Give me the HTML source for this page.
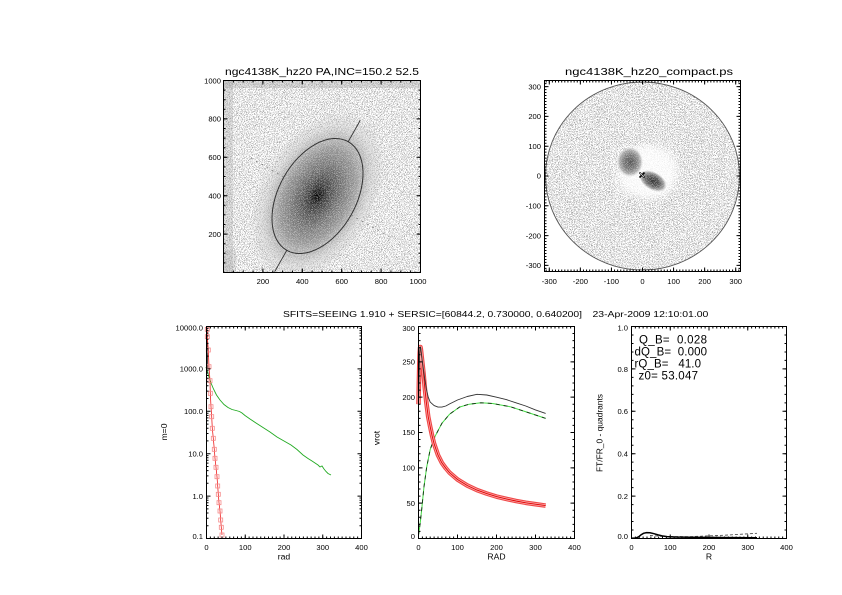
<!DOCTYPE html>
<html><head><meta charset="utf-8"><style>
html,body{margin:0;padding:0;background:#fff;}
svg{display:block;}
.t{font-family:"Liberation Sans",sans-serif;font-size:7.6px;fill:#000;}
.a{font-family:"Liberation Sans",sans-serif;font-size:8.6px;fill:#000;}
.h{font-family:"Liberation Sans",sans-serif;font-size:10.5px;fill:#000;}
.q{font-family:"Liberation Sans",sans-serif;font-size:11.5px;fill:#000;white-space:pre;}
</style></head><body>
<svg width="842" height="595" viewBox="0 0 842 595" xmlns="http://www.w3.org/2000/svg">
<defs>
<filter id="nzA" x="0" y="0" width="1" height="1" color-interpolation-filters="sRGB">
<feTurbulence type="fractalNoise" baseFrequency="1.4" numOctaves="1" seed="3"/>
<feColorMatrix type="matrix" values="0 0 0 0 0.56 0 0 0 0 0.56 0 0 0 0 0.56 8 0 0 0 -4.15"/>
</filter>
<filter id="nzB" x="0" y="0" width="1" height="1" color-interpolation-filters="sRGB">
<feTurbulence type="fractalNoise" baseFrequency="1.4" numOctaves="1" seed="11"/>
<feColorMatrix type="matrix" values="0 0 0 0 0.55 0 0 0 0 0.55 0 0 0 0 0.55 8 0 0 0 -4.15"/>
</filter>
<filter id="nzC" x="0" y="0" width="1" height="1" color-interpolation-filters="sRGB">
<feTurbulence type="fractalNoise" baseFrequency="1.4" numOctaves="1" seed="21"/>
<feColorMatrix type="matrix" values="0 0 0 0 1 0 0 0 0 1 0 0 0 0 1 8 0 0 0 -4.2"/>
</filter>
<radialGradient id="gal" cx="0.5" cy="0.5" r="0.5">
<stop offset="0" stop-color="#000"/>
<stop offset="0.05" stop-color="#1a1a1a"/>
<stop offset="0.12" stop-color="#3c3c3c"/>
<stop offset="0.25" stop-color="#5e5e5e"/>
<stop offset="0.4" stop-color="#7c7c7c"/>
<stop offset="0.55" stop-color="#969696"/>
<stop offset="0.67" stop-color="#aaaaaa" stop-opacity="0.85"/>
<stop offset="0.82" stop-color="#bbbbbb" stop-opacity="0.45"/>
<stop offset="1" stop-color="#c8c8c8" stop-opacity="0"/>
</radialGradient>
<radialGradient id="blobA" cx="0.5" cy="0.5" r="0.5">
<stop offset="0" stop-color="#555"/>
<stop offset="0.5" stop-color="#7a7a7a"/>
<stop offset="0.8" stop-color="#9a9a9a" stop-opacity="0.8"/>
<stop offset="1" stop-color="#bbb" stop-opacity="0"/>
</radialGradient>
<radialGradient id="blobB" cx="0.5" cy="0.5" r="0.5">
<stop offset="0" stop-color="#333"/>
<stop offset="0.5" stop-color="#5e5e5e"/>
<stop offset="0.8" stop-color="#8a8a8a" stop-opacity="0.8"/>
<stop offset="1" stop-color="#aaa" stop-opacity="0"/>
</radialGradient>
<clipPath id="cA"><rect x="224" y="81" width="196" height="191"/></clipPath>
<clipPath id="cB"><ellipse cx="642.5" cy="176" rx="97" ry="94"/></clipPath>
<clipPath id="cG"><ellipse cx="317.5" cy="196" rx="50" ry="80" transform="rotate(29.5 317.5 196)"/></clipPath>
<filter id="bl" x="-50%" y="-50%" width="200%" height="200%"><feGaussianBlur stdDeviation="4"/></filter>
<path id="logL" d="M206.5 525.7h2M206.5 518.3h2M206.5 513h2M206.5 508.9h2M206.5 505.5h2M206.5 502.7h2M206.5 500.2h2M206.5 498h2M206.5 483.3h2M206.5 475.9h2M206.5 470.6h2M206.5 466.5h2M206.5 463.1h2M206.5 460.3h2M206.5 457.8h2M206.5 455.6h2M206.5 440.9h2M206.5 433.5h2M206.5 428.2h2M206.5 424.1h2M206.5 420.7h2M206.5 417.9h2M206.5 415.4h2M206.5 413.2h2M206.5 398.5h2M206.5 391.1h2M206.5 385.8h2M206.5 381.7h2M206.5 378.3h2M206.5 375.5h2M206.5 373h2M206.5 370.8h2M206.5 356.1h2M206.5 348.7h2M206.5 343.4h2M206.5 339.3h2M206.5 335.9h2M206.5 333.1h2M206.5 330.6h2M206.5 328.4h2M206.5 496.1h4M206.5 453.7h4M206.5 411.3h4M206.5 368.9h4"/>
</defs>

<rect x="0" y="0" width="842" height="595" fill="#fff"/>

<!-- ===== Panel A: galaxy image ===== -->
<g clip-path="url(#cA)">
<rect x="224" y="81" width="196" height="191" fill="#fff"/>
<rect x="224" y="81" width="196" height="191" filter="url(#nzA)"/>
<rect x="224" y="81" width="196" height="7" fill="#999" opacity="0.3"/>
<rect x="224" y="81" width="9" height="191" fill="#999" opacity="0.25"/>
<rect x="224" y="250" width="12" height="22" fill="#999" opacity="0.2"/>
<ellipse cx="317.5" cy="196" rx="58" ry="92" transform="rotate(29.5 317.5 196)" fill="url(#gal)"/>
<g clip-path="url(#cG)" opacity="0.6"><rect x="240" y="100" width="160" height="180" filter="url(#nzC)"/></g>
<ellipse cx="317.5" cy="196" rx="38.6" ry="62.4" transform="rotate(29.5 317.5 196)" fill="none" stroke="#333" stroke-width="1"/>
<line x1="348.2" y1="141.7" x2="360.3" y2="120.3" stroke="#333" stroke-width="0.9"/>
<line x1="286.8" y1="250.3" x2="274.7" y2="271.7" stroke="#333" stroke-width="0.9"/>
<line x1="351.1" y1="215" x2="393.2" y2="238.8" stroke="#777" stroke-width="0.7" stroke-dasharray="2 4"/>
<line x1="283.9" y1="177" x2="247.9" y2="156.6" stroke="#777" stroke-width="0.7" stroke-dasharray="2 4"/>
</g>
<g stroke="#000" fill="none">
<rect x="223.5" y="80.5" width="197" height="192" stroke-width="1"/>
<line x1="223" y1="271.5" x2="421" y2="271.5" stroke-width="2" stroke-dasharray="1 8.85"/>
<line x1="223" y1="81.5" x2="421" y2="81.5" stroke-width="2" stroke-dasharray="1 8.85"/>
<line x1="224.5" y1="273" x2="224.5" y2="80" stroke-width="2" stroke-dasharray="1 8.6"/>
<line x1="419.5" y1="273" x2="419.5" y2="80" stroke-width="2" stroke-dasharray="1 8.6"/>
<line x1="223" y1="270.5" x2="421" y2="270.5" stroke-width="4" stroke-dasharray="1 38.4"/>
<line x1="223" y1="82.5" x2="421" y2="82.5" stroke-width="4" stroke-dasharray="1 38.4"/>
<line x1="225.5" y1="273" x2="225.5" y2="80" stroke-width="4" stroke-dasharray="1 37.4"/>
<line x1="418.5" y1="273" x2="418.5" y2="80" stroke-width="4" stroke-dasharray="1 37.4"/>
</g>
<text class="h" x="225" y="75" textLength="194" lengthAdjust="spacingAndGlyphs">ngc4138K_hz20 PA,INC=150.2 52.5</text>
<g class="t" text-anchor="end">
<text x="221" y="83.4">1000</text>
<text x="221" y="121.6">800</text>
<text x="221" y="160">600</text>
<text x="221" y="198.4">400</text>
<text x="221" y="236.8">200</text>
</g>
<g class="t" text-anchor="middle">
<text x="262.9" y="284">200</text>
<text x="302.3" y="284">400</text>
<text x="341.7" y="284">600</text>
<text x="381.1" y="284">800</text>
<text x="418" y="284">1000</text>
</g>

<!-- ===== Panel B: residual map ===== -->
<g clip-path="url(#cB)">
<rect x="545" y="81" width="196" height="191" filter="url(#nzB)"/>
<ellipse cx="648" cy="172" rx="30" ry="27" fill="#fff" filter="url(#bl)" opacity="0.8"/>
<ellipse cx="630" cy="162" rx="13" ry="15" fill="url(#blobA)"/>
<ellipse cx="653" cy="181" rx="15" ry="9" transform="rotate(30 653 181)" fill="url(#blobB)"/>
<rect x="612" y="145" width="60" height="50" filter="url(#nzC)" opacity="0.5"/>
<path d="M639.5 172.5l5 5M644.5 172.5l-5 5" stroke="#000" stroke-width="1.6"/>
<path d="M640 173l4 4" stroke="#fff" stroke-width="0.6"/>
</g>
<ellipse cx="642.5" cy="176" rx="97" ry="94" fill="none" stroke="#555" stroke-width="0.9"/>
<g stroke="#000" fill="none">
<rect x="544.5" y="80.5" width="196" height="191" stroke-width="1"/>
<line x1="545.68" y1="270.5" x2="740" y2="270.5" stroke-width="2" stroke-dasharray="1 2.107"/>
<line x1="545.68" y1="81.5" x2="740" y2="81.5" stroke-width="2" stroke-dasharray="1 2.107"/>
<line x1="545.5" y1="83.12" x2="545.5" y2="271" stroke-width="2" stroke-dasharray="1 1.98"/>
<line x1="739.5" y1="83.12" x2="739.5" y2="271" stroke-width="2" stroke-dasharray="1 1.98"/>
<line x1="548.79" y1="269.5" x2="740" y2="269.5" stroke-width="4" stroke-dasharray="1 30.07"/>
<line x1="548.79" y1="82.5" x2="740" y2="82.5" stroke-width="4" stroke-dasharray="1 30.07"/>
<line x1="546.5" y1="86.1" x2="546.5" y2="271" stroke-width="4" stroke-dasharray="1 28.8"/>
<line x1="738.5" y1="86.1" x2="738.5" y2="271" stroke-width="4" stroke-dasharray="1 28.8"/>
</g>
<text class="h" x="565" y="75" textLength="168" lengthAdjust="spacingAndGlyphs">ngc4138K_hz20_compact.ps</text>
<g class="t" text-anchor="end">
<text x="541" y="89.3">300</text>
<text x="541" y="119.1">200</text>
<text x="541" y="148.9">100</text>
<text x="541" y="178.7">0</text>
<text x="541" y="208.5">-100</text>
<text x="541" y="238.3">-200</text>
<text x="541" y="268.1">-300</text>
</g>
<g class="t" text-anchor="middle">
<text x="549.3" y="284">-300</text>
<text x="580.4" y="284">-200</text>
<text x="611.4" y="284">-100</text>
<text x="642.5" y="284">0</text>
<text x="673.6" y="284">100</text>
<text x="704.6" y="284">200</text>
<text x="735.7" y="284">300</text>
</g>

<!-- ===== Bottom title ===== -->
<text class="a" x="283" y="317" textLength="299" lengthAdjust="spacingAndGlyphs">SFITS=SEEING 1.910 + SERSIC=[60844.2, 0.730000, 0.640200]</text>
<text class="a" x="592.5" y="317" textLength="115.8" lengthAdjust="spacingAndGlyphs">23-Apr-2009 12:10:01.00</text>

<!-- ===== Panel C: log profile ===== -->
<g fill="none">
<polyline points="206,367 207.5,372 209,377 211,383 213.5,389 216.5,395 220,400 224,404.5 228,407.5 232,409.5 236,410.5 239.5,411.5 242,413 245,415.5 250,419 256,423 263,427.5 270,432 277,437 284,441 291,445 297,449.5 303,455 308,458.5 312,461 315,463 318,465 320,467 322,466 324,469 326,471.5 328,473.5 331,475" stroke="#22aa22" stroke-width="0.9"/>
<polyline points="206.7,329 207.2,350 207.8,368" stroke="#222" stroke-width="0.8"/>
<polyline points="207.3,329.3 207.3,336.7 208.3,350 209,366.7 210,380.7 210.3,393.3 211,406.7 211.7,416.7 212.3,428.3 213.3,438.3 214.3,449.3 215,458.3 216,467.3 217,476.7 217.7,486 218.3,494.3 219,502.7 220,511 220.7,520 221.3,527.3 222,535" stroke="#ee2222" stroke-width="0.8"/>
<g stroke="#f58a8a" stroke-width="0.8">
<rect x="205.3" y="327.3" width="4" height="4"/><rect x="205.3" y="334.7" width="4" height="4"/><rect x="206.3" y="348" width="4" height="4"/><rect x="207" y="364.7" width="4" height="4"/><rect x="208" y="378.7" width="4" height="4"/><rect x="208.3" y="391.3" width="4" height="4"/><rect x="209" y="404.7" width="4" height="4"/><rect x="209.7" y="414.7" width="4" height="4"/><rect x="210.3" y="426.3" width="4" height="4"/><rect x="211.3" y="436.3" width="4" height="4"/><rect x="212.3" y="447.3" width="4" height="4"/><rect x="213" y="456.3" width="4" height="4"/><rect x="214" y="465.3" width="4" height="4"/><rect x="215" y="474.7" width="4" height="4"/><rect x="215.7" y="484" width="4" height="4"/><rect x="216.3" y="492.3" width="4" height="4"/><rect x="217" y="500.7" width="4" height="4"/><rect x="218" y="509" width="4" height="4"/><rect x="218.7" y="518" width="4" height="4"/><rect x="219.3" y="525.3" width="4" height="4"/><rect x="220" y="533" width="4" height="4"/>
</g>
</g>
<g stroke="#000" fill="none">
<rect x="206.5" y="326.5" width="155" height="212" stroke-width="1"/>
<line x1="206" y1="537.5" x2="362" y2="537.5" stroke-width="2" stroke-dasharray="1 2.875"/>
<line x1="206" y1="327.5" x2="362" y2="327.5" stroke-width="2" stroke-dasharray="1 2.875"/>
<line x1="206" y1="536.5" x2="362" y2="536.5" stroke-width="4" stroke-dasharray="1 37.75"/>
<line x1="206" y1="328.5" x2="362" y2="328.5" stroke-width="4" stroke-dasharray="1 37.75"/>
<use href="#logL" stroke-width="1"/>
<use href="#logL" stroke-width="1" transform="matrix(-1 0 0 1 568 0)"/>
</g>
<g class="t" text-anchor="end">
<text x="203" y="330.5">10000.0</text>
<text x="203" y="371.6">1000.0</text>
<text x="203" y="414">100.0</text>
<text x="203" y="456.4">10.0</text>
<text x="203" y="498.8">1.0</text>
<text x="203" y="539.2">0.1</text>
</g>
<g class="t" text-anchor="middle">
<text x="206.5" y="550.2">0</text>
<text x="245.25" y="550.2">100</text>
<text x="284" y="550.2">200</text>
<text x="322.75" y="550.2">300</text>
<text x="361.5" y="550.2">400</text>
</g>
<text class="a" x="284" y="559.5" text-anchor="middle">rad</text>
<text class="a" transform="translate(167,432) rotate(-90)" text-anchor="middle">m=0</text>

<!-- ===== Panel D: rotation curve ===== -->
<g fill="none" stroke-linejoin="round">
<polyline points="418.5,535 419.28,530 420.45,520.8 421.62,510.2 423.96,486.9 426.69,467.1 430.2,449.5 434.88,436.7 441.9,423.3 449.7,414.1 459.45,407.1 469.2,404.2 480.9,402.8 492.6,403.5 510.15,406.7 526.53,412 545.64,418.4" stroke="#44dd44" stroke-width="1"/>
<polyline points="418.5,535 419.28,530 420.45,520.8 421.62,510.2 423.96,486.9 426.69,467.1 430.2,449.5 434.88,436.7 441.9,423.3 449.7,414.1 459.45,407.1 469.2,404.2 480.9,402.8 492.6,403.5 510.15,406.7 526.53,412 545.64,418.4" stroke="#113311" stroke-width="0.9" stroke-dasharray="4 4"/>
<polyline points="418.5,404.2 418.89,383 419.28,365.4 419.67,353.3 420.06,347.7 420.45,347 420.84,349.1 421.62,356.2 422.4,363.2 423.57,373.8 424.74,387.3 426.3,402.1 428.25,416.9 430.2,426.8 432.15,436 434.1,443.8 438,455.1 441.9,462.9 445.8,468.2 449.7,472.8 457.5,479.5 467.25,485.5 477,490.1 486.75,493.6 496.5,496.6 506.25,498.9 516,501 525.75,502.8 535.5,504.2 545.64,505.6" stroke="#f04848" stroke-width="4.6"/>
<polyline points="418.5,404.2 418.89,383 419.28,365.4 419.67,353.3 420.06,347.7 420.45,347 420.84,349.1 421.62,356.2 422.4,363.2 423.57,373.8 424.74,387.3 426.3,402.1 428.25,416.9 430.2,426.8 432.15,436 434.1,443.8 438,455.1 441.9,462.9 445.8,468.2 449.7,472.8 457.5,479.5 467.25,485.5 477,490.1 486.75,493.6 496.5,496.6 506.25,498.9 516,501 525.75,502.8 535.5,504.2 545.64,505.6" stroke="#fbb0b0" stroke-width="2.4"/>
<polyline points="418.5,404.2 418.89,383 419.28,365.4 419.67,353.3 420.06,347.7 420.45,347 420.84,349.1 421.62,356.2 422.4,363.2 423.57,373.8 424.74,387.3 426.3,402.1 428.25,416.9 430.2,426.8 432.15,436 434.1,443.8 438,455.1 441.9,462.9 445.8,468.2 449.7,472.8 457.5,479.5 467.25,485.5 477,490.1 486.75,493.6 496.5,496.6 506.25,498.9 516,501 525.75,502.8 535.5,504.2 545.64,505.6" stroke="#e00000" stroke-width="0.9"/>
<polyline points="418.5,404.2 418.89,383 419.28,365.4 419.67,353.3 420.06,347.7 420.45,347 420.84,349.1 421.62,355.5 422.4,361.8 423.57,370.3 424.74,378.8 426.3,388.7 428.25,397.2 430.2,402.1 434.1,405.6 438,407.1 441.9,407.1 445.8,406 449.7,403.9 457.5,400 467.25,396.5 477,394.3 486.75,395 496.5,397.2 506.25,399.6 516,402.8 525.75,406 535.5,409.9 545.64,413.4" stroke="#333" stroke-width="0.9"/>
</g>
<g stroke="#000" fill="none">
<rect x="418.5" y="326.5" width="156" height="212" stroke-width="1"/>
<line x1="418" y1="537.5" x2="575" y2="537.5" stroke-width="2" stroke-dasharray="1 2.9"/>
<line x1="418" y1="327.5" x2="575" y2="327.5" stroke-width="2" stroke-dasharray="1 2.9"/>
<line x1="418" y1="536.5" x2="575" y2="536.5" stroke-width="4" stroke-dasharray="1 38"/>
<line x1="418" y1="328.5" x2="575" y2="328.5" stroke-width="4" stroke-dasharray="1 38"/>
<line x1="419.5" y1="539" x2="419.5" y2="326" stroke-width="2" stroke-dasharray="1 6.067"/>
<line x1="573.5" y1="539" x2="573.5" y2="326" stroke-width="2" stroke-dasharray="1 6.067"/>
<line x1="420.5" y1="539" x2="420.5" y2="326" stroke-width="4" stroke-dasharray="1 34.33"/>
<line x1="572.5" y1="539" x2="572.5" y2="326" stroke-width="4" stroke-dasharray="1 34.33"/>
</g>
<g class="t" text-anchor="end">
<text x="415" y="330.8">300</text>
<text x="415" y="364.5">250</text>
<text x="415" y="399.9">200</text>
<text x="415" y="435.2">150</text>
<text x="415" y="470.5">100</text>
<text x="415" y="505.9">50</text>
<text x="415" y="539">0</text>
</g>
<g class="t" text-anchor="middle">
<text x="418.5" y="550.2">0</text>
<text x="457.5" y="550.2">100</text>
<text x="496.5" y="550.2">200</text>
<text x="535.5" y="550.2">300</text>
<text x="574.5" y="550.2">400</text>
</g>
<text class="a" x="496.5" y="559.5" text-anchor="middle">RAD</text>
<text class="a" transform="translate(379.5,438) rotate(-90)" text-anchor="middle">vrot</text>

<!-- ===== Panel E: FT/FR ===== -->
<g fill="none">
<polyline points="650,535.5 665,536.5 690,536.7 706,536 723,535.3 740,534.3 753,533.5 757,533.3" stroke="#555" stroke-width="0.9" stroke-dasharray="3 2"/>
<polyline points="631.5,538.3 636,538 639,536.6 641,534.8 643.5,533.3 646.5,532.6 650,532.8 654,533.7 658,534.9 662,535.9 667,536.6 675,537 690,537.3 720,537.5 757,537.7" stroke="#000" stroke-width="1.5"/>
</g>
<g stroke="#000" fill="none">
<rect x="631.5" y="326.5" width="155" height="212" stroke-width="1"/>
<line x1="631" y1="537.5" x2="787" y2="537.5" stroke-width="2" stroke-dasharray="1 2.875"/>
<line x1="631" y1="327.5" x2="787" y2="327.5" stroke-width="2" stroke-dasharray="1 2.875"/>
<line x1="631" y1="536.5" x2="787" y2="536.5" stroke-width="4" stroke-dasharray="1 37.75"/>
<line x1="631" y1="328.5" x2="787" y2="328.5" stroke-width="4" stroke-dasharray="1 37.75"/>
<line x1="632.5" y1="539" x2="632.5" y2="326" stroke-width="2" stroke-dasharray="1 7.48"/>
<line x1="785.5" y1="539" x2="785.5" y2="326" stroke-width="2" stroke-dasharray="1 7.48"/>
<line x1="633.5" y1="539" x2="633.5" y2="326" stroke-width="4" stroke-dasharray="1 41.4"/>
<line x1="784.5" y1="539" x2="784.5" y2="326" stroke-width="4" stroke-dasharray="1 41.4"/>
</g>
<g class="t" text-anchor="end">
<text x="628" y="330.5">1.0</text>
<text x="628" y="371.8">0.8</text>
<text x="628" y="414.2">0.6</text>
<text x="628" y="456.6">0.4</text>
<text x="628" y="499">0.2</text>
<text x="628" y="539.2">0.0</text>
</g>
<g class="t" text-anchor="middle">
<text x="631.5" y="550.2">0</text>
<text x="670.25" y="550.2">100</text>
<text x="709" y="550.2">200</text>
<text x="747.75" y="550.2">300</text>
<text x="786.5" y="550.2">400</text>
</g>
<text class="a" x="709" y="559.5" text-anchor="middle">R</text>
<text class="a" transform="translate(602.5,433) rotate(-90)" text-anchor="middle" textLength="78" lengthAdjust="spacingAndGlyphs">FT/FR_0 - quadrants</text>
<text class="q" x="639" y="343.5" textLength="68">Q_B=  0.028</text>
<text class="q" x="634.5" y="355.5" textLength="72.5">dQ_B=  0.000</text>
<text class="q" x="634.5" y="367.5" textLength="66.5">rQ_B=   41.0</text>
<text class="q" x="638.5" y="379.5" textLength="59.5">z0= 53.047</text>
</svg>
</body></html>
